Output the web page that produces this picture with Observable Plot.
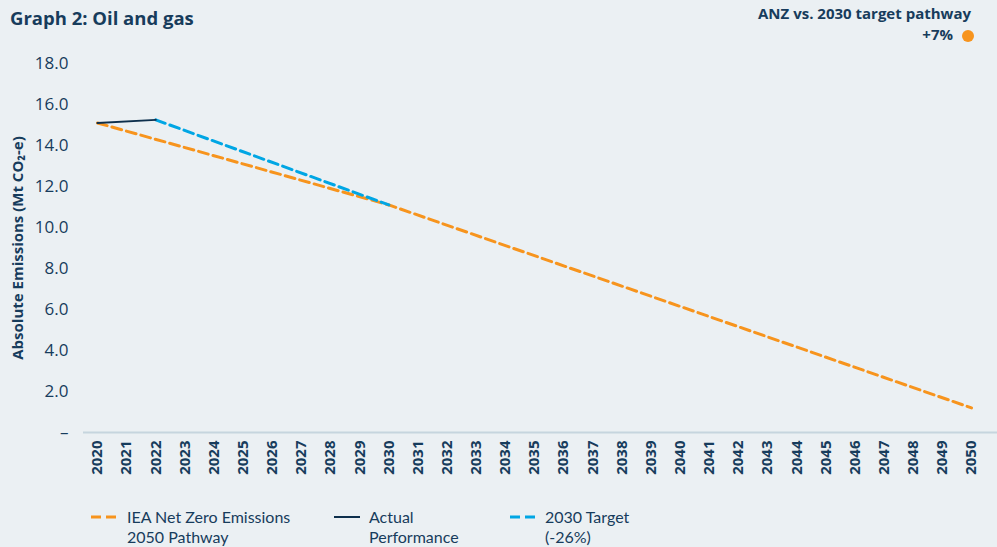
<!DOCTYPE html>
<html><head><meta charset="utf-8">
<script src="https://cdn.jsdelivr.net/npm/d3@7"></script>
<script src="https://cdn.jsdelivr.net/npm/@observablehq/plot@0.6"></script>
<style>
html,body{margin:0;padding:0;background:#ebf0f3;}
body{font-family:"Open Sans",sans-serif;color:#173c5c;}
#wrap{position:relative;width:997px;height:547px;overflow:hidden;background:#ebf0f3;}
#title{position:absolute;left:10px;top:5px;font-size:18.5px;font-weight:700;line-height:26px;white-space:nowrap;}
#anno{position:absolute;right:26px;top:3px;text-align:right;font-size:15px;font-weight:700;line-height:21px;white-space:nowrap;}
#anno div{height:21px;}
#anno .pct{padding-right:18px;}
#dot{position:absolute;left:962px;top:30px;width:12px;height:12px;border-radius:50%;background:#f7941d;}
#chart{position:absolute;left:0;top:45px;}
.item{position:absolute;font-family:Lato,"Open Sans",sans-serif;font-size:16px;line-height:19.5px;height:19.5px;white-space:nowrap;}
.sw{position:absolute;top:514px;}
</style>
</head><body>
<div id="wrap">
  <div id="title">Graph 2: Oil and gas</div>
  <div id="anno"><div>ANZ vs. 2030 target pathway</div><div><span class="pct">+7%</span></div></div>
  <div id="dot"></div>
  <div id="chart"></div>
  <div id="legend"></div>
</div>
<script>
const years = d3.range(2020, 2051);
const yTicks = [0, 2, 4, 6, 8, 10, 12, 14, 16, 18];

const ieaYears = [2020, 2030, 2050];
const ieaValues = [15.1, 11.1, 1.2];

const actualYears = [2020, 2022];
const actualValues = [15.1, 15.25];

const targetYears = [2022, 2030];
const targetValues = [15.25, 11.1];

const seriesNames = [["IEA Net Zero Emissions", "2050 Pathway"], ["Actual", "Performance"], ["2030 Target", "(-26%)"]];
const seriesColors = ["#f7941d", "#0d2f4c", "#00a6e4"];
const yLabel = "Absolute Emissions (Mt CO₂-e)";

const toRows = (xs, vs) => xs.map((x, i) => ({year: x, value: vs[i]}));
const textColor = "#173c5c";

const chart = Plot.plot({
  width: 997,
  height: 442,
  marginLeft: 97,
  marginRight: 26,
  marginTop: 18,
  marginBottom: 55,
  style: {background: "transparent", fontFamily: "Open Sans, sans-serif", color: textColor},
  x: {domain: [2020, 2050]},
  y: {domain: [0, 18]},
  marks: [
    Plot.ruleY([0], {stroke: "#c6d5de", strokeWidth: 2, insetLeft: -14, insetRight: -26}),
    Plot.axisY(yTicks, {tickSize: 0, tickPadding: 29, fontSize: 17, fill: textColor, label: null,
      tickFormat: d => d === 0 ? "–" : d.toFixed(1)}),
    Plot.axisX(years, {tickSize: 0, tickPadding: 8, tickRotate: -90, fontSize: 15, fontWeight: "bold",
      fill: textColor, label: null, tickFormat: d => String(d)}),
    Plot.text([yLabel], {text: d => d, frameAnchor: "left", textAnchor: "middle", dx: -79, rotate: -90,
      fontSize: 15, fontWeight: "bold", fill: textColor}),
    Plot.line(toRows(ieaYears, ieaValues), {x: "year", y: "value", stroke: seriesColors[0], strokeWidth: 3, strokeDasharray: "10,5"}),
    Plot.line(toRows(targetYears, targetValues), {x: "year", y: "value", stroke: seriesColors[2], strokeWidth: 3, strokeDasharray: "10,5"}),
    Plot.line(toRows(actualYears, actualValues), {x: "year", y: "value", stroke: seriesColors[1], strokeWidth: 2})
  ]
});
document.getElementById("chart").appendChild(chart);

// legend
const legend = document.getElementById("legend");
const swX = [91, 334, 510];
const txX = [127, 369, 545];
seriesNames.forEach((lines, i) => {
  const dashed = i !== 1;
  const sw = document.createElementNS("http://www.w3.org/2000/svg", "svg");
  sw.setAttribute("class", "sw");
  sw.setAttribute("width", 26);
  sw.setAttribute("height", 6);
  sw.style.left = swX[i] + "px";
  const ln = document.createElementNS("http://www.w3.org/2000/svg", "line");
  ln.setAttribute("x1", 0); ln.setAttribute("x2", 26);
  ln.setAttribute("y1", 3); ln.setAttribute("y2", 3);
  ln.setAttribute("stroke", seriesColors[i]);
  ln.setAttribute("stroke-width", dashed ? 3 : 2);
  if (dashed) ln.setAttribute("stroke-dasharray", "10,5");
  sw.appendChild(ln);
  legend.appendChild(sw);
  lines.forEach((line, j) => {
    const t = document.createElement("div");
    t.className = "item";
    t.style.left = txX[i] + "px";
    t.style.top = (507 + j * 19.5) + "px";
    t.textContent = line;
    legend.appendChild(t);
  });
});
</script>
</body></html>
